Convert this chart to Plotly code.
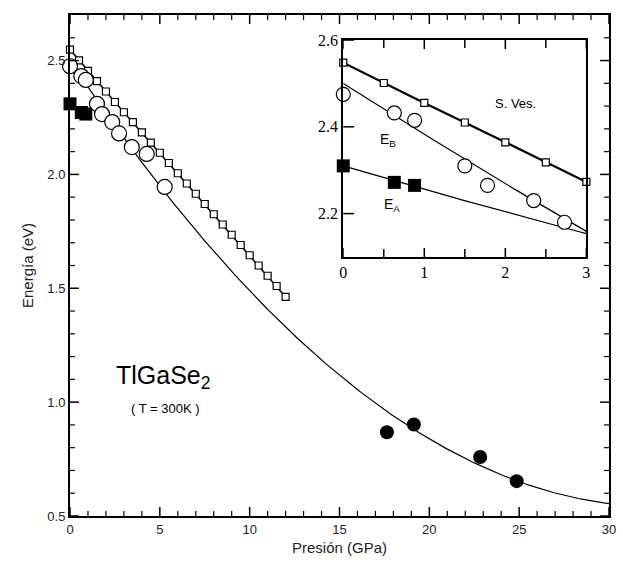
import numpy as np
import plotly.graph_objects as go

# Valence band edge (S. Ves.), eV vs pressure (GPa)
sves_p = [0, 0.5, 1, 1.5, 2, 2.5, 3, 3.5, 4, 4.5, 5, 5.5, 6, 6.5, 7, 7.5, 8,
          8.5, 9, 9.5, 10, 10.5, 11, 11.5, 12]
sves_e = [2.548, 2.501, 2.455, 2.41, 2.364, 2.318, 2.273, 2.23, 2.185, 2.14,
          2.095, 2.05, 2.005, 1.96, 1.915, 1.87, 1.825, 1.78, 1.735, 1.69,
          1.645, 1.60, 1.555, 1.51, 1.462]

# E_B exciton (open circles)
eb_p = [0, 0.63, 0.88, 1.5, 1.78, 2.35, 2.73, 3.44, 4.27, 5.27]
eb_e = [2.475, 2.432, 2.415, 2.31, 2.265, 2.23, 2.18, 2.12, 2.09, 1.945]

# E_A exciton (filled squares)
ea_p = [0, 0.63, 0.88]
ea_e = [2.31, 2.272, 2.265]

# High-pressure gap (filled circles)
hp_p = [17.64, 19.14, 22.83, 24.86]
hp_e = [0.868, 0.902, 0.759, 0.653]

# Polynomial fit coefficients (c0, c1, c2, c3)
EB_FIT = [2.5, -0.11902, 0.001782, 7.9e-7]
EA_FIT = [2.31, -0.055, 0.001]

INSET_N = 7  # points shown in the low-pressure inset

# Tick positions
x_major = [0, 5, 10, 15, 20, 25, 30]
x_minor = [1, 2, 3, 4, 6, 7, 8, 9, 11, 12, 13, 14, 16, 17, 18, 19, 21, 22,
           23, 24, 26, 27, 28, 29]
y_major = [0.5, 1.0, 1.5, 2.0, 2.5]
y_minor = [0.6, 0.7, 0.8, 0.9, 1.1, 1.2, 1.3, 1.4, 1.6, 1.7, 1.8, 1.9,
           2.1, 2.2, 2.3, 2.4, 2.6]
xi_major = [0, 1, 2, 3]
xi_minor = [0.5, 1.5, 2.5]
yi_major = [2.2, 2.4, 2.6]

SANS = "Liberation Sans, Arial, sans-serif"
SERIF = "Liberation Serif, Times New Roman, serif"

W, H = 623, 570
MARGIN = dict(l=70, r=7, t=13, b=54)
PLOT_W = W - MARGIN["l"] - MARGIN["r"]
PLOT_H = H - MARGIN["t"] - MARGIN["b"]
INSET_X = [0.507, 0.958]
INSET_Y = [0.517, 0.950]
INSET_W = (INSET_X[1] - INSET_X[0]) * PLOT_W
INSET_H = (INSET_Y[1] - INSET_Y[0]) * PLOT_H


def poly(coefs, x):
    x = np.asarray(x, dtype=float)
    return sum(c * x ** i for i, c in enumerate(coefs))


def x_ticks(vals, xref, length_px, height_px, both=True, width=1.5):
    """Inward tick marks on the bottom (and top) edge of a subplot."""
    frac = length_px / height_px
    out = []
    for v in vals:
        out.append(dict(type="line", xref=xref, yref=f"{ref_y[xref]} domain",
                        x0=v, x1=v, y0=0, y1=frac,
                        line=dict(color="black", width=width)))
        if both:
            out.append(dict(type="line", xref=xref,
                            yref=f"{ref_y[xref]} domain",
                            x0=v, x1=v, y0=1, y1=1 - frac,
                            line=dict(color="black", width=width)))
    return out


def y_ticks(vals, yref, length_px, width_px, both=True, width=1.5):
    """Inward tick marks on the left (and right) edge of a subplot."""
    frac = length_px / width_px
    out = []
    for v in vals:
        out.append(dict(type="line", xref=f"{ref_x[yref]} domain", yref=yref,
                        x0=0, x1=frac, y0=v, y1=v,
                        line=dict(color="black", width=width)))
        if both:
            out.append(dict(type="line", xref=f"{ref_x[yref]} domain",
                            yref=yref, x0=1, x1=1 - frac, y0=v, y1=v,
                            line=dict(color="black", width=width)))
    return out


ref_y = {"x": "y", "x2": "y2"}
ref_x = {"y": "x", "y2": "x2"}

p_main = np.linspace(0, 30, 301)
p_inset = np.linspace(0, 3, 61)

fig = go.Figure()

# ---- main panel ----
fig.add_trace(go.Scatter(x=p_main, y=poly(EB_FIT, p_main), mode="lines",
                         line=dict(color="black", width=1.2),
                         showlegend=False, hoverinfo="skip"))
fig.add_trace(go.Scatter(x=sves_p, y=sves_e, mode="lines+markers",
                         line=dict(color="black", width=1.5),
                         marker=dict(symbol="square", size=7, color="white",
                                     line=dict(color="black", width=1.2)),
                         cliponaxis=False, showlegend=False))
fig.add_trace(go.Scatter(x=eb_p, y=eb_e, mode="markers",
                         marker=dict(symbol="circle", size=15, color="white",
                                     line=dict(color="black", width=1.2)),
                         cliponaxis=False, showlegend=False))
fig.add_trace(go.Scatter(x=ea_p, y=ea_e, mode="markers",
                         marker=dict(symbol="square", size=13, color="black"),
                         cliponaxis=False, showlegend=False))
fig.add_trace(go.Scatter(x=hp_p, y=hp_e, mode="markers",
                         marker=dict(symbol="circle", size=14, color="black"),
                         showlegend=False))

# ---- inset ----
fig.add_trace(go.Scatter(x=p_inset, y=poly(EB_FIT, p_inset), mode="lines",
                         line=dict(color="black", width=1.2),
                         xaxis="x2", yaxis="y2", showlegend=False,
                         hoverinfo="skip"))
fig.add_trace(go.Scatter(x=p_inset, y=poly(EA_FIT, p_inset), mode="lines",
                         line=dict(color="black", width=1.2),
                         xaxis="x2", yaxis="y2", showlegend=False,
                         hoverinfo="skip"))
fig.add_trace(go.Scatter(x=sves_p[:INSET_N], y=sves_e[:INSET_N],
                         mode="lines+markers",
                         line=dict(color="black", width=2.2),
                         marker=dict(symbol="square", size=7, color="white",
                                     line=dict(color="black", width=1.2)),
                         cliponaxis=False,
                         xaxis="x2", yaxis="y2", showlegend=False))
fig.add_trace(go.Scatter(x=eb_p[:INSET_N], y=eb_e[:INSET_N], mode="markers",
                         marker=dict(symbol="circle", size=14, color="white",
                                     line=dict(color="black", width=1.2)),
                         cliponaxis=False,
                         xaxis="x2", yaxis="y2", showlegend=False))
fig.add_trace(go.Scatter(x=ea_p, y=ea_e, mode="markers",
                         marker=dict(symbol="square", size=13, color="black"),
                         cliponaxis=False,
                         xaxis="x2", yaxis="y2", showlegend=False))

# tick marks pointing into the frames
tick_shapes = (
    x_ticks(x_major, "x", 9, PLOT_H)
    + x_ticks(x_minor, "x", 5, PLOT_H, width=1.2)
    + y_ticks(y_major, "y", 9, PLOT_W)
    + y_ticks(y_minor, "y", 5, PLOT_W, width=1.2)
    + x_ticks(xi_major, "x2", 9, INSET_H)
    + x_ticks(xi_minor, "x2", 8, INSET_H)
    + y_ticks(yi_major, "y2", 11, INSET_W, both=False)
)

framed = dict(showline=True, linecolor="black", linewidth=2,
              showgrid=False, zeroline=False, ticks="", mirror=True)

fig.update_layout(
    width=W, height=H,
    margin=MARGIN,
    paper_bgcolor="white", plot_bgcolor="white",
    font=dict(family=SANS, color="#222"),
    xaxis=dict(framed, range=[0, 30], tickvals=x_major,
               tickfont=dict(size=13),
               title=dict(text="Presión (GPa)", font=dict(size=15),
                          standoff=7)),
    yaxis=dict(framed, range=[0.5, 2.7], tickvals=y_major, tickformat=".1f",
               ticksuffix="   ", tickfont=dict(size=13),
               title=dict(text="Energía (eV)", font=dict(size=15),
                          standoff=10)),
    xaxis2=dict(framed, domain=INSET_X, anchor="y2", range=[0, 3],
                tickvals=xi_major,
                tickfont=dict(size=16, family=SERIF, color="black")),
    yaxis2=dict(framed, domain=INSET_Y, anchor="x2", range=[2.1, 2.6],
                tickvals=yi_major, tickformat=".1f", ticksuffix="  ",
                tickfont=dict(size=16, family=SERIF, color="black")),
    shapes=tick_shapes,
    annotations=[
        dict(text="TlGaSe<sub>2</sub>", xref="x", yref="y", x=5.2, y=1.11,
             showarrow=False, font=dict(size=25, color="black")),
        dict(text="( T = 300K )", xref="x", yref="y", x=5.3, y=0.97,
             showarrow=False, font=dict(size=13, color="black")),
        dict(text="S. Ves.", xref="x2", yref="y2", x=2.13, y=2.453,
             showarrow=False, font=dict(size=13, color="black")),
        dict(text="E<sub>B</sub>", xref="x2", yref="y2", x=0.55, y=2.37,
             showarrow=False, font=dict(size=14, color="black")),
        dict(text="E<sub>A</sub>", xref="x2", yref="y2", x=0.6, y=2.22,
             showarrow=False, font=dict(size=14, color="black")),
    ],
)

fig.write_html("out.html")
